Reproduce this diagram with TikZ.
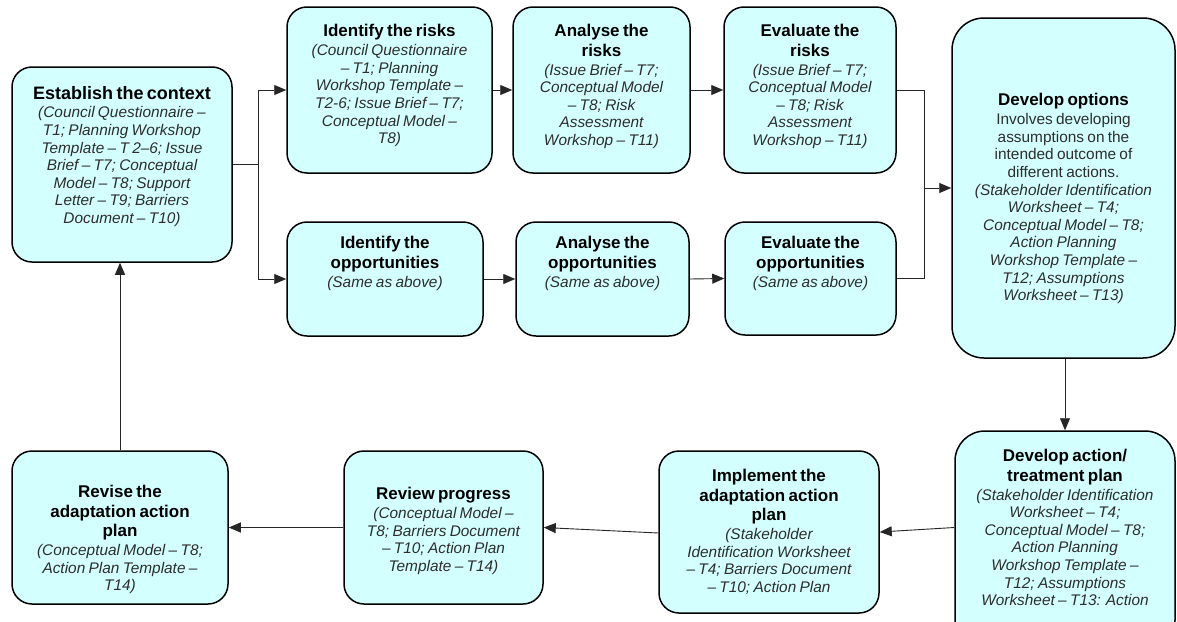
\documentclass[tikz,border=0pt]{standalone}
\usepackage{fontspec}
\setmainfont{Liberation Sans}
\usetikzlibrary{arrows.meta,calc}
\definecolor{boxfill}{RGB}{212,255,255}
\definecolor{txtgray}{RGB}{45,45,45}
\newcommand{\mytitle}[1]{{\fontsize{17}{19.5}\selectfont\bfseries #1\par}\vspace{1.5pt}}
\newcommand{\mybigtitle}[1]{{\fontsize{18}{20}\selectfont\bfseries #1\par}\vspace{1pt}}
\newcommand{\mybody}[1]{{\fontsize{15.4}{17.6}\selectfont\itshape\color{txtgray}#1\par}}
\newcommand{\myplain}[1]{{\fontsize{15.4}{17.6}\selectfont\color{txtgray}#1\par}}
\begin{document}
\begin{tikzpicture}[x=1pt,y=-1pt,
  box/.style={draw=black, line width=1.5pt, fill=boxfill, rounded corners=20pt, inner sep=0pt},
  txt/.style={inner sep=0pt, anchor=north, align=center},
  conn/.style={draw=black!85, line width=0.9pt},
  arr/.style={conn, -{Triangle[length=12pt,width=10pt]}}]
\clip (0,0) rectangle (1177,621);
\fill[white] (0,0) rectangle (1177,621);

% boxes
\node[box, minimum width=220pt, minimum height=195pt] (ctx) at (122,164.5) {};
\node[box, minimum width=205pt, minimum height=166pt] (ir) at (389.5,90) {};
\node[box, minimum width=177pt, minimum height=166pt] (ar) at (601.5,90) {};
\node[box, minimum width=172pt, minimum height=166pt] (er) at (810,90) {};
\node[box, minimum width=196pt, minimum height=114pt] (io) at (385,279) {};
\node[box, minimum width=173pt, minimum height=114pt] (ao) at (602.5,279) {};
\node[box, minimum width=171pt, minimum height=113pt] (eo) at (810.5,278.5) {};
\node[box, rounded corners=32pt, minimum width=223pt, minimum height=340pt] (dopt) at (1063.5,188) {};
\node[box, rounded corners=30pt, minimum width=220pt, minimum height=219pt] (dap) at (1065,540.5) {};
\node[box, minimum width=220pt, minimum height=162pt] (imp) at (769,532) {};
\node[box, minimum width=199pt, minimum height=153pt] (rev) at (443.5,527.5) {};
\node[box, minimum width=216pt, minimum height=153pt] (rvs) at (120,527.5) {};

% texts
\node[txt, text width=214pt] (ctxT) at (122,86) {\mybigtitle{Establish the context}\mybody{(Council Questionnaire –\\ T1; Planning Workshop\\ Template – T 2–6; Issue\\ Brief – T7; Conceptual\\ Model – T8; Support\\ Letter – T9; Barriers\\ Document – T10)}};
\node[txt, text width=195pt] (irT) at (389.5,24) {\mytitle{Identify the risks}\mybody{(Council Questionnaire\\ – T1; Planning\\ Workshop Template –\\ T2-6; Issue Brief – T7;\\ Conceptual Model –\\ T8)}};
\node[txt, text width=170pt] (arT) at (601.5,24) {\mytitle{Analyse the\\ risks}\mybody{(Issue Brief – T7;\\ Conceptual Model\\ – T8; Risk\\ Assessment\\ Workshop – T11)}};
\node[txt, text width=166pt] (erT) at (810,24) {\mytitle{Evaluate the\\ risks}\mybody{(Issue Brief – T7;\\ Conceptual Model\\ – T8; Risk\\ Assessment\\ Workshop – T11)}};
\node[txt, text width=186pt] (ioT) at (385,236) {\mytitle{Identify the\\ opportunities}\mybody{(Same as above)}};
\node[txt, text width=166pt] (aoT) at (602.5,236) {\mytitle{Analyse the\\ opportunities}\mybody{(Same as above)}};
\node[txt, text width=166pt] (eoT) at (810.5,236) {\mytitle{Evaluate the\\ opportunities}\mybody{(Same as above)}};
\node[txt, text width=215pt] (doptT) at (1063.5,93) {\mytitle{Develop options}\myplain{Involves developing\\ assumptions on the\\ intended outcome of\\ different actions.}\mybody{(Stakeholder Identification\\ Worksheet – T4;\\ Conceptual Model – T8;\\ Action Planning\\ Workshop Template –\\ T12; Assumptions\\ Worksheet – T13)}};
\node[txt, text width=215pt] (dapT) at (1065,449) {\mytitle{Develop action/\\ treatment plan}\mybody{(Stakeholder Identification\\ Worksheet – T4;\\ Conceptual Model – T8;\\ Action Planning\\ Workshop Template –\\ T12; Assumptions\\ Worksheet – T13: Action}};
\node[txt, text width=210pt] (impT) at (769,469) {\mytitle{Implement the\\ adaptation action\\ plan}\mybody{(Stakeholder\\ Identification Worksheet\\ – T4; Barriers Document\\ – T10; Action Plan}};
\node[txt, text width=195pt] (revT) at (443.5,487) {\mytitle{Review progress}\mybody{(Conceptual Model –\\ T8; Barriers Document\\ – T10; Action Plan\\ Template – T14)}};
\node[txt, text width=210pt] (rvsT) at (120,485) {\mytitle{Revise the\\ adaptation action\\ plan}\mybody{(Conceptual Model – T8;\\ Action Plan Template –\\ T14)}};

% connectors
\coordinate (brT) at (258,90);
\coordinate (brB) at (258,279);
\draw[conn] (ctx.east) -- (ctx.east -| brT);
\draw[conn] (brT) -- (brB);
\draw[arr] (brT) -- (ir.west);
\draw[arr] (brB) -- (io.west);
\draw[arr] (ir.east) -- (ar.west);
\draw[arr] (ar.east) -- (er.west);
\draw[arr] (io.east) -- (ao.west);
\draw[arr] (ao.east) -- (eo.west);
\coordinate (mT) at (924,90);
\coordinate (mB) at (924,278.5);
\draw[conn] (er.east) -- (mT) -- (mB) -- (eo.east);
\draw[arr] (mT |- dopt.west) -- (dopt.west);
\draw[arr] (dap.north |- dopt.south) -- (dap.north);
\draw[arr] ([yshift=13pt]dap.west) -- (imp.east);
\draw[arr] ([yshift=-1pt]imp.west) -- (rev.east);
\draw[arr] (rev.west) -- (rvs.east);
\draw[arr] (rvs.north) -- (rvs.north |- ctx.south);
\end{tikzpicture}
\end{document}
